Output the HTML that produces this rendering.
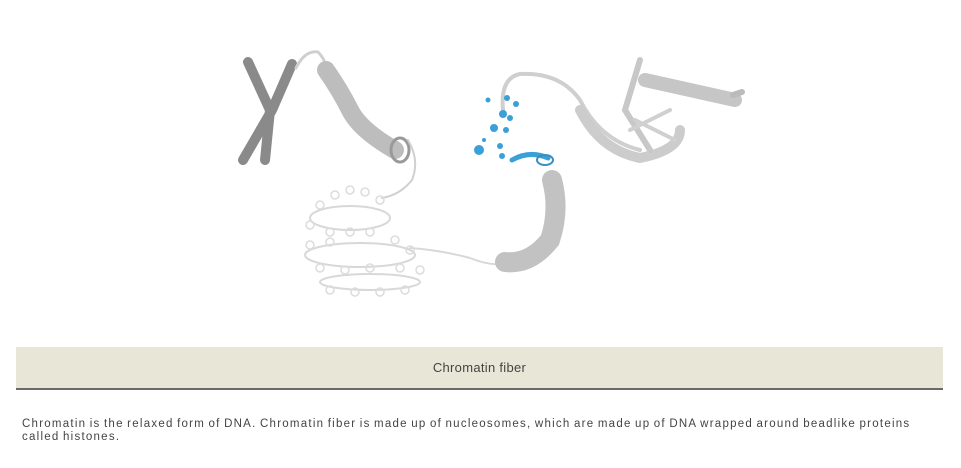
<!DOCTYPE html>
<html><head><meta charset="utf-8"><style>
body{margin:0;width:961px;height:468px;background:#fff;overflow:hidden;font-family:"Liberation Sans",sans-serif;position:relative}
.bar{position:absolute;left:16px;top:347px;width:927px;height:41px;background:#e8e6d7;border-bottom:2px solid #6a6a6a;text-align:center;line-height:41px;font-size:13px;color:#444;letter-spacing:0.3px}
.p{position:absolute;left:22px;top:418px;width:925px;font-size:11.5px;line-height:13px;color:#444;letter-spacing:1.25px;word-spacing:-1px}
svg{position:absolute;left:0;top:0}
</style></head><body>
<svg width="961" height="340" viewBox="0 0 961 340">
<g fill="none" stroke-linecap="round">
<path d="M248 62 L270 110 L265 160" stroke="#8a8a8a" stroke-width="10"/>
<path d="M292 64 L272 110 L243 160" stroke="#8a8a8a" stroke-width="10"/>
<path d="M296 68 Q305 50 318 52 Q326 60 326 70" stroke="#cfcfcf" stroke-width="3"/>
<path d="M326 70 Q340 90 350 110 Q360 130 395 150" stroke="#bdbdbd" stroke-width="18"/>
<ellipse cx="400" cy="150" rx="9" ry="12" stroke="#999" stroke-width="3"/>
<path d="M408 140 Q420 160 412 180 Q400 195 382 198" stroke="#d0d0d0" stroke-width="2"/>
<g stroke="#d8d8d8" stroke-width="2">
<ellipse cx="350" cy="218" rx="40" ry="12"/>
<ellipse cx="360" cy="255" rx="55" ry="12"/>
<ellipse cx="370" cy="282" rx="50" ry="8"/>
<path d="M410 248 Q440 250 470 258 Q495 268 510 262"/>
</g>
<g stroke="#dcdcdc" stroke-width="1.5">
<circle cx="320" cy="205" r="4"/><circle cx="335" cy="195" r="4"/><circle cx="350" cy="190" r="4"/><circle cx="365" cy="192" r="4"/><circle cx="380" cy="200" r="4"/>
<circle cx="310" cy="225" r="4"/><circle cx="330" cy="232" r="4"/><circle cx="350" cy="232" r="4"/><circle cx="370" cy="232" r="4"/>
<circle cx="310" cy="245" r="4"/><circle cx="330" cy="242" r="4"/><circle cx="395" cy="240" r="4"/><circle cx="410" cy="250" r="4"/>
<circle cx="320" cy="268" r="4"/><circle cx="345" cy="270" r="4"/><circle cx="370" cy="268" r="4"/><circle cx="400" cy="268" r="4"/><circle cx="420" cy="270" r="4"/>
<circle cx="330" cy="290" r="4"/><circle cx="355" cy="292" r="4"/><circle cx="380" cy="292" r="4"/><circle cx="405" cy="290" r="4"/>
</g>
<path d="M505 262 Q530 265 550 240 Q560 210 552 180" stroke="#c2c2c2" stroke-width="20"/>
<path d="M512 160 Q530 150 548 158" stroke="#3aa0d8" stroke-width="5"/>
<ellipse cx="545" cy="160" rx="8" ry="5" stroke="#3a8ec0" stroke-width="2"/>
<path d="M503 110 Q500 78 520 74 Q560 72 580 100 Q600 140 640 150" stroke="#cfcfcf" stroke-width="4"/>
<path d="M580 110 Q600 150 640 158 Q680 150 680 130" stroke="#cccccc" stroke-width="10"/>
<path d="M640 60 L625 110 L650 150" stroke="#c8c8c8" stroke-width="6"/>
<path d="M645 80 L735 100" stroke="#c6c6c6" stroke-width="14"/>
<path d="M733 95 L742 92" stroke="#bbb" stroke-width="6"/>
<path d="M630 130 L670 110 M635 120 L675 140" stroke="#d0d0d0" stroke-width="4"/>
</g>
<g fill="#3aa0d8">
<circle cx="488" cy="100" r="2.5"/><circle cx="507" cy="98" r="3"/><circle cx="516" cy="104" r="3"/><circle cx="503" cy="114" r="4"/><circle cx="510" cy="118" r="3"/>
<circle cx="494" cy="128" r="4"/><circle cx="506" cy="130" r="3"/><circle cx="484" cy="140" r="2"/><circle cx="479" cy="150" r="5"/><circle cx="500" cy="146" r="3"/><circle cx="502" cy="156" r="3"/>
</g>
</svg>
<div class="bar">Chromatin fiber</div>
<div class="p">Chromatin is the relaxed form of DNA. Chromatin fiber is made up of nucleosomes, which are made up of DNA wrapped around beadlike proteins<br>called histones.</div>
</body></html>
